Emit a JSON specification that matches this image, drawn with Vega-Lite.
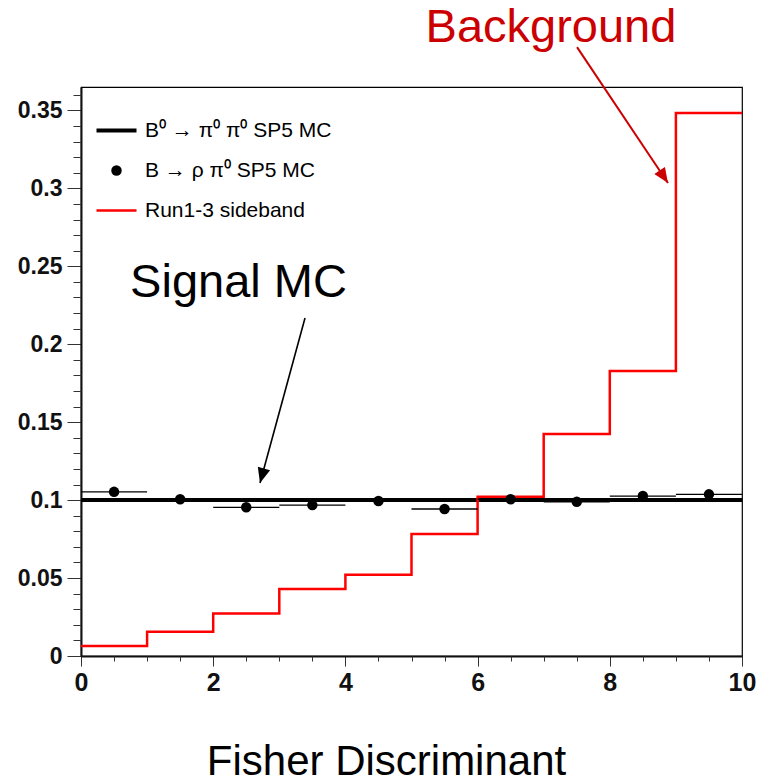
{
  "$schema": "https://vega.github.io/schema/vega-lite/v6.json",
  "width": 661,
  "height": 569,
  "autosize": "none",
  "padding": {"left": 81, "top": 87, "right": 24, "bottom": 128},
  "background": "white",
  "config": {
    "view": {"stroke": "#000", "strokeWidth": 1.2},
    "axis": {"grid": false, "tickColor": "#333", "domainColor": "#111", "domainWidth": 2, "labelColor": "#111", "labelFlush": false, "labelOverlap": false}
  },
  "datasets": {
    "hist": [
      {"x": 0, "bg": 0.0064, "sig": 0.1},
      {"x": 1, "bg": 0.0155, "sig": 0.1},
      {"x": 2, "bg": 0.0272, "sig": 0.1},
      {"x": 3, "bg": 0.0430, "sig": 0.1},
      {"x": 4, "bg": 0.0522, "sig": 0.1},
      {"x": 5, "bg": 0.0783, "sig": 0.1},
      {"x": 6, "bg": 0.1022, "sig": 0.1},
      {"x": 7, "bg": 0.1424, "sig": 0.1},
      {"x": 8, "bg": 0.1828, "sig": 0.1},
      {"x": 9, "bg": 0.3483, "sig": 0.1},
      {"x": 10, "bg": 0.3483, "sig": 0.1}
    ],
    "pts": [
      {"lo": 0, "hi": 1, "c": 0.5, "v": 0.1053},
      {"lo": 1, "hi": 2, "c": 1.5, "v": 0.1006},
      {"lo": 2, "hi": 3, "c": 2.5, "v": 0.0954},
      {"lo": 3, "hi": 4, "c": 3.5, "v": 0.0968},
      {"lo": 4, "hi": 5, "c": 4.5, "v": 0.0994},
      {"lo": 5, "hi": 6, "c": 5.5, "v": 0.0943},
      {"lo": 6, "hi": 7, "c": 6.5, "v": 0.1006},
      {"lo": 7, "hi": 8, "c": 7.5, "v": 0.0989},
      {"lo": 8, "hi": 9, "c": 8.5, "v": 0.1026},
      {"lo": 9, "hi": 10, "c": 9.5, "v": 0.1037}
    ],
    "bgnote": [{"x": 7.11, "y": 0.3938, "t": "Background", "x0": 7.504, "y0": 0.3906, "x1": 8.88, "y1": 0.3034}],
    "signote": [{"x": 2.383, "y": 0.2303, "t": "Signal MC", "x0": 3.389, "y0": 0.2168, "x1": 2.708, "y1": 0.111}],
    "ymin": [{"v": 0}, {"v": 0.01}, {"v": 0.02}, {"v": 0.03}, {"v": 0.04}]
  },
  "layer": [
    {
      "data": {"name": "hist"},
      "mark": {"type": "line", "interpolate": "step-after", "strokeWidth": 4, "clip": false},
      "encoding": {
        "x": {"field": "x", "type": "quantitative", "scale": {"domain": [0, 10], "nice": false, "zero": false},
          "axis": {"orient": "bottom", "values": [0, 2, 4, 6, 8, 10], "format": "d", "tickSize": 10, "labelFont": "Liberation Sans", "labelFontWeight": "bold", "labelFontSize": 25, "labelPadding": 4,
            "title": "Fisher Discriminant", "titleFont": "Liberation Sans", "titleFontWeight": "normal", "titleFontSize": 42, "titleColor": "#000", "titleAlign": "center", "titleAnchor": null, "titleBaseline": "alphabetic", "titleX": 305, "titleY": 118}},
        "y": {"field": "sig", "type": "quantitative", "scale": {"domain": [0, 0.365], "nice": false, "zero": false},
          "axis": {"orient": "left", "values": [0, 0.05, 0.1, 0.15, 0.2, 0.25, 0.3, 0.35], "format": "~g", "tickSize": 14, "labelFont": "Liberation Sans", "labelFontWeight": "bold", "labelFontSize": 23, "labelPadding": 5, "title": null}},
        "color": {"datum": "B⁰ → π⁰ π⁰ SP5 MC", "type": "nominal",
          "scale": {"domain": ["B⁰ → π⁰ π⁰ SP5 MC", "B → ρ π⁰ SP5 MC", "Run1-3 sideband"], "range": ["#000000", "#000000", "#ff0000"]},
          "legend": {"orient": "none", "legendX": 25, "legendY": 33, "title": null, "symbolType": "stroke", "symbolSize": 1600, "labelFont": "Liberation Sans", "labelFontSize": 21, "labelColor": "#000", "labelOffset": 18, "rowPadding": 18, "padding": 0, "labelLimit": 500,
            "encode": {"symbols": {"update": {
              "shape": {"signal": "datum.index === 1 ? 'circle' : 'stroke'"},
              "size": {"signal": "datum.index === 1 ? 110 : 1600"},
              "fill": {"signal": "datum.index === 1 ? '#000000' : 'transparent'"},
              "stroke": {"signal": "datum.index === 2 ? '#ff0000' : '#000000'"},
              "strokeWidth": {"signal": "datum.index === 1 ? 0 : (datum.index === 2 ? 2.5 : 4)"},
              "opacity": {"value": 1},
              "fillOpacity": {"value": 1},
              "strokeOpacity": {"value": 1}
            }}}}
        }
      }
    },
    {
      "data": {"name": "ymin"},
      "mark": {"type": "point", "opacity": 0},
      "encoding": {
        "y": {"field": "v", "type": "quantitative",
          "axis": {"orient": "left", "values": [0.01, 0.02, 0.03, 0.04, 0.06, 0.07, 0.08, 0.09, 0.11, 0.12, 0.13, 0.14, 0.16, 0.17, 0.18, 0.19, 0.21, 0.22, 0.23, 0.24, 0.26, 0.27, 0.28, 0.29, 0.31, 0.32, 0.33, 0.34, 0.36], "labels": false, "domain": false, "tickSize": 8, "title": null}},
        "x": {"datum": 0.5, "type": "quantitative",
          "axis": {"orient": "bottom", "values": [0.5, 1, 1.5, 2.5, 3, 3.5, 4.5, 5, 5.5, 6.5, 7, 7.5, 8.5, 9, 9.5], "labels": false, "domain": false, "tickSize": 5, "title": null}}
      }
    },
    {
      "data": {"name": "hist"},
      "mark": {"type": "line", "interpolate": "step-after", "strokeWidth": 2.5},
      "encoding": {
        "x": {"field": "x", "type": "quantitative", "axis": null},
        "y": {"field": "bg", "type": "quantitative", "axis": null},
        "color": {"datum": "Run1-3 sideband", "type": "nominal"}
      }
    },
    {
      "data": {"name": "pts"},
      "mark": {"type": "rule", "strokeWidth": 1.3, "color": "#000"},
      "encoding": {
        "x": {"field": "lo", "type": "quantitative", "axis": null},
        "x2": {"field": "hi"},
        "y": {"field": "v", "type": "quantitative", "axis": null}
      }
    },
    {
      "data": {"name": "pts"},
      "mark": {"type": "point", "shape": "circle", "filled": true, "size": 110, "opacity": 1},
      "encoding": {
        "x": {"field": "c", "type": "quantitative", "axis": null},
        "y": {"field": "v", "type": "quantitative", "axis": null},
        "color": {"datum": "B → ρ π⁰ SP5 MC", "type": "nominal"}
      }
    },
    {
      "data": {"name": "bgnote"},
      "mark": {"type": "text", "font": "Liberation Sans", "fontSize": 47, "color": "#cc0000", "align": "center", "baseline": "alphabetic"},
      "encoding": {
        "x": {"field": "x", "type": "quantitative", "axis": null},
        "y": {"field": "y", "type": "quantitative", "axis": null},
        "text": {"field": "t"}
      }
    },
    {
      "data": {"name": "bgnote"},
      "mark": {"type": "rule", "strokeWidth": 2, "color": "#cc0000"},
      "encoding": {
        "x": {"field": "x0", "type": "quantitative", "axis": null},
        "y": {"field": "y0", "type": "quantitative", "axis": null},
        "x2": {"field": "x1"},
        "y2": {"field": "y1"}
      }
    },
    {
      "data": {"name": "bgnote"},
      "mark": {"type": "point", "shape": "M0,0L-0.85,2L0.85,2Z", "filled": true, "size": 225, "color": "#cc0000", "opacity": 1, "angle": 146.2},
      "encoding": {
        "x": {"field": "x1", "type": "quantitative", "axis": null},
        "y": {"field": "y1", "type": "quantitative", "axis": null}
      }
    },
    {
      "data": {"name": "signote"},
      "mark": {"type": "text", "font": "Liberation Sans", "fontSize": 47, "color": "#000", "align": "center", "baseline": "alphabetic"},
      "encoding": {
        "x": {"field": "x", "type": "quantitative", "axis": null},
        "y": {"field": "y", "type": "quantitative", "axis": null},
        "text": {"field": "t"}
      }
    },
    {
      "data": {"name": "signote"},
      "mark": {"type": "rule", "strokeWidth": 1.6, "color": "#000"},
      "encoding": {
        "x": {"field": "x0", "type": "quantitative", "axis": null},
        "y": {"field": "y0", "type": "quantitative", "axis": null},
        "x2": {"field": "x1"},
        "y2": {"field": "y1"}
      }
    },
    {
      "data": {"name": "signote"},
      "mark": {"type": "point", "shape": "M0,0L-0.85,2L0.85,2Z", "filled": true, "size": 225, "color": "#000", "opacity": 1, "angle": 195.3},
      "encoding": {
        "x": {"field": "x1", "type": "quantitative", "axis": null},
        "y": {"field": "y1", "type": "quantitative", "axis": null}
      }
    }
  ],
  "resolve": {"axis": {"x": "independent", "y": "independent"}}
}
